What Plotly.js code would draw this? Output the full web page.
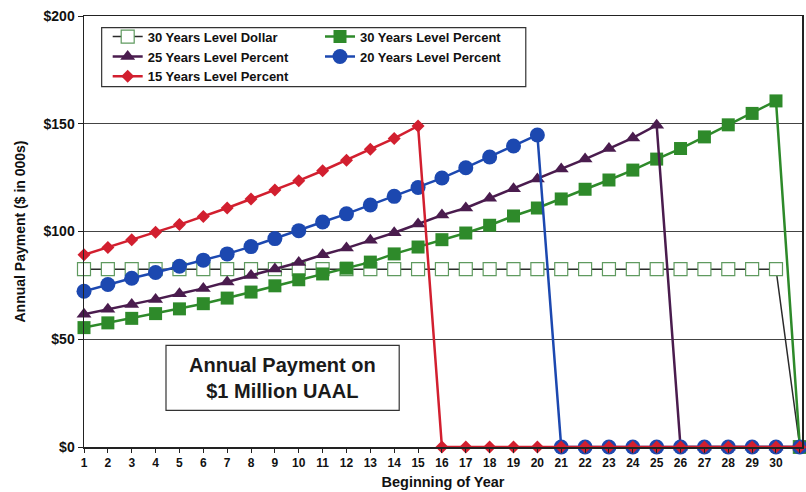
<!DOCTYPE html>
<html>
<head>
<meta charset="utf-8">
<script src="https://cdn.plot.ly/plotly-3.0.1.min.js"></script>
<style>
  html, body { margin: 0; padding: 0; background: #ffffff; }
  #chart { width: 806px; height: 492px; }
</style>
</head>
<body>
<div id="chart"></div>
<script>
// Beginning of year (categories along the x axis)
const years = [1, 2, 3, 4, 5, 6, 7, 8, 9, 10, 11, 12, 13, 14, 15, 16, 17, 18, 19, 20,
               21, 22, 23, 24, 25, 26, 27, 28, 29, 30, 31];

// Annual payment, $ in 000s, on $1 million of UAAL
const levelDollar30 = [82.5, 82.5, 82.5, 82.5, 82.5, 82.5, 82.5, 82.5, 82.5, 82.5,
                       82.5, 82.5, 82.5, 82.5, 82.5, 82.5, 82.5, 82.5, 82.5, 82.5,
                       82.5, 82.5, 82.5, 82.5, 82.5, 82.5, 82.5, 82.5, 82.5, 82.5, 0];
const levelPercent30 = [55.4, 57.6, 59.7, 61.9, 64.1, 66.5, 69.1, 71.9, 74.8, 77.6,
                        80.3, 83.0, 85.8, 89.6, 92.8, 96.2, 99.3, 102.9, 107.2, 110.9,
                        115.1, 119.6, 123.9, 128.5, 133.6, 138.5, 143.9, 149.5, 154.8, 160.6, 0];
const levelPercent25 = [61.6, 63.9, 66.1, 68.5, 71.1, 73.6, 76.6, 79.6, 82.6, 85.6,
                        89.2, 92.3, 95.9, 99.4, 103.5, 107.6, 110.9, 115.4, 119.8, 124.4,
                        129.0, 133.6, 138.5, 143.4, 149.3, 0, 0, 0, 0, 0, 0];
const levelPercent20 = [72.3, 75.4, 78.3, 81.0, 83.9, 86.7, 89.6, 93.0, 96.7, 100.4,
                        104.4, 108.2, 112.3, 116.3, 120.4, 124.8, 129.6, 134.6, 139.7, 144.8,
                        0, 0, 0, 0, 0, 0, 0, 0, 0, 0, 0];
const levelPercent15 = [89.2, 92.6, 96.2, 99.7, 103.2, 107.0, 110.9, 115.1, 119.3, 123.6,
                        128.2, 133.1, 138.2, 143.2, 149.0, 0, 0, 0, 0, 0,
                        0, 0, 0, 0, 0, 0, 0, 0, 0, 0, 0];

const seriesNames = ["30 Years Level Dollar", "30 Years Level Percent", "25 Years Level Percent",
                     "20 Years Level Percent", "15 Years Level Percent"];

// Axis tick labels
const yTickVals = [0, 50, 100, 150, 200];
const yTickText = ["$0", "$50", "$100", "$150", "$200"];

const FONT = '"Liberation Sans", Arial, sans-serif';

function series(name, y, legendId, lineColor, lineWidth, marker) {
  return {
    type: 'scatter', mode: 'lines+markers', name: name, legend: legendId,
    x: years, y: y, cliponaxis: false,
    line: { color: lineColor, width: lineWidth },
    marker: marker
  };
}

// Drawn bottom to top: level dollar first, shortest schedule last
const traces = [
  series(seriesNames[0], levelDollar30, 'legend', '#2a2a2a', 1.5,
         { symbol: 'square', size: 13, color: '#ffffff', line: { color: '#5f9a5f', width: 1.2 } }),
  series(seriesNames[1], levelPercent30, 'legend2', '#2e8a2a', 2.5,
         { symbol: 'square', size: 13, color: '#2e8a2a', line: { width: 0 } }),
  series(seriesNames[2], levelPercent25, 'legend', '#4a1c4e', 2.5,
         { symbol: 'triangle-up', size: 13, color: '#4a1c4e', line: { width: 0 } }),
  series(seriesNames[3], levelPercent20, 'legend2', '#1c48b0', 2.5,
         { symbol: 'circle', size: 15, color: '#1c48b0', line: { width: 0 } }),
  series(seriesNames[4], levelPercent15, 'legend', '#d21f2f', 2.5,
         { symbol: 'diamond', size: 10, color: '#d21f2f', line: { width: 0 } })
];

const legendFont = { family: FONT, size: 13, weight: 'bold', color: '#111111' };
function legendColumn(x) {
  return {
    orientation: 'v', x: x, y: 0.987, xanchor: 'left', yanchor: 'top',
    bgcolor: 'rgba(0,0,0,0)', borderwidth: 0, font: legendFont, traceorder: 'normal'
  };
}

const layout = {
  width: 806, height: 492,
  margin: { l: 84, r: 4, t: 16, b: 45 },
  paper_bgcolor: '#ffffff', plot_bgcolor: '#ffffff',
  font: { family: FONT, color: '#111111' },
  showlegend: true,
  legend: legendColumn(0.033),
  legend2: legendColumn(0.3287),
  xaxis: {
    range: [1, 31.09], tickmode: 'array', tickvals: years, ticktext: years.map(String),
    showgrid: false, zeroline: false,
    showline: true, linecolor: '#222222', linewidth: 1.5, mirror: true,
    ticks: 'outside', ticklen: 4, tickcolor: '#222222',
    tickfont: { family: FONT, size: 12, weight: 'bold', color: '#111111' },
    title: { text: 'Beginning of Year', standoff: 8,
             font: { family: FONT, size: 14.5, weight: 'bold', color: '#111111' } },
    fixedrange: true
  },
  yaxis: {
    range: [0, 200], tickmode: 'array', tickvals: yTickVals, ticktext: yTickText,
    showgrid: true, gridcolor: '#444444', gridwidth: 1, zeroline: false,
    showline: true, linecolor: '#222222', linewidth: 1.5, mirror: true,
    ticks: 'outside', ticklen: 5, tickcolor: '#222222',
    tickfont: { family: FONT, size: 14, weight: 'bold', color: '#111111' },
    title: { text: 'Annual Payment ($ in 000s)', standoff: 14,
             font: { family: FONT, size: 14, weight: 'bold', color: '#111111' } },
    fixedrange: true
  },
  shapes: [
    // frame around the two legend columns
    { type: 'rect', xref: 'paper', yref: 'paper', x0: 0.0246, x1: 0.6153, y0: 0.836, y1: 0.973,
      line: { color: '#333333', width: 1.2 }, fillcolor: '#ffffff', layer: 'below' },
    // caption box
    { type: 'rect', xref: 'paper', yref: 'paper', x0: 0.1142, x1: 0.439, y0: 0.085, y1: 0.236,
      line: { color: '#333333', width: 1.2 }, fillcolor: '#ffffff', layer: 'below' }
  ],
  annotations: [
    { xref: 'paper', yref: 'paper', x: 0.2766, y: 0.1594, xanchor: 'center', yanchor: 'middle',
      showarrow: false, align: 'center',
      text: 'Annual Payment on<br>$1 Million UAAL',
      font: { family: FONT, size: 20, weight: 'bold', color: '#1a1a1a' } }
  ]
};

Plotly.newPlot('chart', traces, layout, { staticPlot: true, displayModeBar: false });
</script>
</body>
</html>
